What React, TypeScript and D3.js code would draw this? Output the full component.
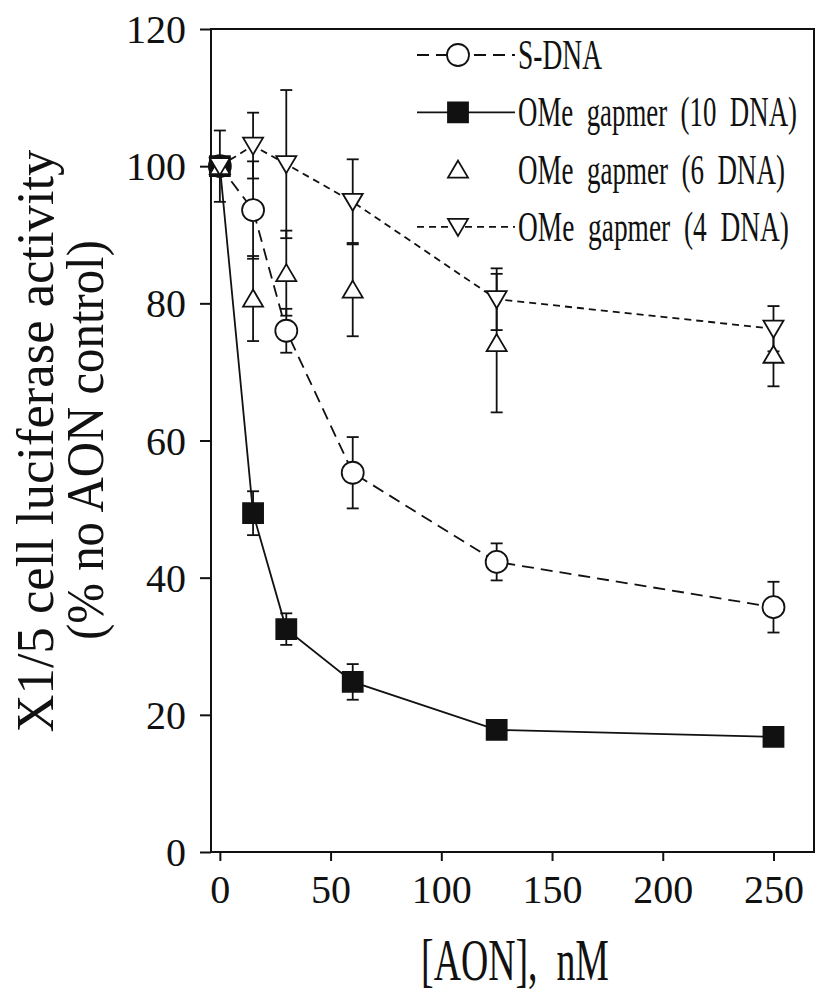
import { useEffect, useRef } from 'react';
import * as d3 from 'd3';

// Concentrations (nM) on the x axis
const concentrations = [0, 15, 30, 60, 125, 250];

// Luciferase activity (% of no-AON control) and error bars
const sDnaValues = [100, 93.6, 76.0, 55.3, 42.3, 35.7];
const sDnaErrors = [0, 7.1, 3.2, 5.2, 2.7, 3.7];
const gapmer10Values = [100, 49.4, 32.5, 24.8, 17.8, 16.8];
const gapmer10Errors = [5.2, 3.2, 2.3, 2.6, 0.8, 0.8];
const gapmer6Values = [100, 80.7, 84.4, 82.0, 74.2, 72.5];
const gapmer6Errors = [0, 6.2, 6.2, 6.8, 10.1, 4.6];
const gapmer4Values = [100, 103.0, 100.3, 94.8, 80.6, 76.3];
const gapmer4Errors = [0, 4.8, 10.8, 6.2, 4.5, 3.3];

const xTicks = [0, 50, 100, 150, 200, 250];
const yTicks = [0, 20, 40, 60, 80, 100, 120];

const legendLabels = ['S-DNA', 'OMe  gapmer  (10  DNA)', 'OMe  gapmer  (6  DNA)', 'OMe  gapmer  (4  DNA)'];

type Marker = 'circle' | 'square' | 'triUp' | 'triDown';

interface Series {
  label: string;
  values: number[];
  errors: number[];
  marker: Marker;
  dash: string | null; // null = solid
  line: boolean;
}

const series: Series[] = [
  { label: legendLabels[0], values: sDnaValues, errors: sDnaErrors, marker: 'circle', dash: '12,7', line: true },
  { label: legendLabels[1], values: gapmer10Values, errors: gapmer10Errors, marker: 'square', dash: null, line: true },
  { label: legendLabels[2], values: gapmer6Values, errors: gapmer6Errors, marker: 'triUp', dash: null, line: false },
  { label: legendLabels[3], values: gapmer4Values, errors: gapmer4Errors, marker: 'triDown', dash: '7,5', line: true },
];

const legendTextLength = [84, 279, 267, 271];

const INK = '#111';
const SERIF = '"Liberation Serif", "DejaVu Serif", serif';

function markerPath(kind: Marker, cx: number, cy: number): string {
  const s = 10; // half size
  switch (kind) {
    case 'square':
      return `M${cx - s},${cy - s}h${2 * s}v${2 * s}h${-2 * s}Z`;
    case 'triUp':
      return `M${cx},${cy - 9}L${cx + 10},${cy + 8}L${cx - 10},${cy + 8}Z`;
    case 'triDown':
      return `M${cx},${cy + 9}L${cx + 10},${cy - 8}L${cx - 10},${cy - 8}Z`;
    default: {
      const p = d3.path();
      p.arc(cx, cy, 11, 0, Math.PI * 2);
      p.closePath();
      return p.toString();
    }
  }
}

// squeeze a text horizontally to a target width (the original uses a condensed face)
function squeeze(
  text: d3.Selection<SVGTextElement, unknown, null, undefined>,
  base: string,
  width: number
) {
  const natural = text.node()!.getComputedTextLength() || width;
  text.attr('transform', `${base} scale(${width / natural},1)`);
}

export default function App() {
  const ref = useRef<SVGSVGElement>(null);

  useEffect(() => {
    if (!ref.current) return;
    const svg = d3.select(ref.current);
    svg.selectAll('*').remove();

    const plot = { left: 211, right: 814, top: 29, bottom: 852 };

    const x = d3.scaleLinear().domain([-4, 268.3]).range([plot.left, plot.right]);
    const y = d3.scaleLinear().domain([0, 120]).range([plot.bottom, plot.top]);

    // Frame
    svg
      .append('rect')
      .attr('x', plot.left)
      .attr('y', plot.top)
      .attr('width', plot.right - plot.left)
      .attr('height', plot.bottom - plot.top)
      .attr('fill', 'none')
      .attr('stroke', INK)
      .attr('stroke-width', 2);

    // Y axis
    const yAxis = svg
      .append('g')
      .attr('transform', `translate(${plot.left},0)`)
      .call(d3.axisLeft(y).tickValues(yTicks).tickSize(11).tickPadding(14).tickFormat(d3.format('d')));
    yAxis.select('.domain').remove();
    yAxis.selectAll('.tick line').attr('stroke', INK).attr('stroke-width', 2);
    yAxis
      .selectAll('.tick text')
      .attr('fill', INK)
      .attr('font-family', SERIF)
      .attr('font-size', 40)
      .attr('dy', '0.34em');

    // X axis
    const xAxis = svg
      .append('g')
      .attr('transform', `translate(0,${plot.bottom})`)
      .call(d3.axisBottom(x).tickValues(xTicks).tickSize(9).tickPadding(14).tickFormat(d3.format('d')));
    xAxis.select('.domain').remove();
    xAxis.selectAll('.tick line').attr('stroke', INK).attr('stroke-width', 2);
    xAxis
      .selectAll('.tick text')
      .attr('fill', INK)
      .attr('font-family', SERIF)
      .attr('font-size', 40)
      .attr('dy', '0.71em');

    // Axis titles
    const yTitle = svg.append('g').attr('fill', INK).attr('font-family', SERIF).attr('font-size', 53);
    const yt1 = yTitle.append('text').attr('text-anchor', 'middle').text('X1/5 cell luciferase activity');
    squeeze(yt1, 'translate(53,441) rotate(-90)', 583);
    const yt2 = yTitle.append('text').attr('text-anchor', 'middle').text('(% no AON control)');
    squeeze(yt2, 'translate(103,440) rotate(-90)', 400);

    const xt = svg
      .append('text')
      .attr('text-anchor', 'middle')
      .attr('fill', INK)
      .attr('font-family', SERIF)
      .attr('font-size', 60)
      .attr('xml:space', 'preserve')
      .style('white-space', 'pre')
      .text('[AON],  nM');
    squeeze(xt, 'translate(515,980)', 188);

    // Error bars
    const cap = 6;
    series.forEach(s => {
      const g = svg.append('g').attr('stroke', INK).attr('stroke-width', 1.8);
      concentrations.forEach((c, i) => {
        const e = s.errors[i];
        if (!e) return;
        const cx = x(c);
        const hi = y(s.values[i] + e);
        const lo = y(s.values[i] - e);
        g.append('line').attr('x1', cx).attr('x2', cx).attr('y1', hi).attr('y2', lo);
        g.append('line').attr('x1', cx - cap).attr('x2', cx + cap).attr('y1', hi).attr('y2', hi);
        g.append('line').attr('x1', cx - cap).attr('x2', cx + cap).attr('y1', lo).attr('y2', lo);
      });
    });

    // Connecting lines
    const lineGen = d3
      .line<number>()
      .x((_, i) => x(concentrations[i]))
      .y(v => y(v));

    series
      .filter(s => s.line)
      .forEach(s => {
        svg
          .append('path')
          .attr('d', lineGen(s.values))
          .attr('fill', 'none')
          .attr('stroke', INK)
          .attr('stroke-width', 1.8)
          .attr('stroke-dasharray', s.dash ?? null);
      });

    // Markers
    series.forEach(s => {
      svg
        .append('g')
        .selectAll('path')
        .data(s.values)
        .join('path')
        .attr('d', (v, i) => markerPath(s.marker, x(concentrations[i]), y(v)))
        .attr('fill', s.marker === 'square' ? INK : '#fff')
        .attr('stroke', INK)
        .attr('stroke-width', 1.8);
    });

    // Legend
    const legend = svg.append('g');
    series.forEach((s, i) => {
      const ry = 55 + i * 57.3;
      const row = legend.append('g');
      if (s.line) {
        row
          .append('line')
          .attr('x1', 417)
          .attr('x2', 515)
          .attr('y1', ry)
          .attr('y2', ry)
          .attr('stroke', INK)
          .attr('stroke-width', 1.8)
          .attr('stroke-dasharray', s.dash ?? null);
      }
      row
        .append('path')
        .attr('d', markerPath(s.marker, 458, ry))
        .attr('fill', s.marker === 'square' ? INK : '#fff')
        .attr('stroke', INK)
        .attr('stroke-width', 1.8);
      const label = row
        .append('text')
        .attr('fill', INK)
        .attr('font-family', SERIF)
        .attr('font-size', 42)
        .attr('xml:space', 'preserve')
        .style('white-space', 'pre')
        .text(s.label);
      squeeze(label, `translate(518,${ry + 14})`, legendTextLength[i]);
    });
  }, []);

  return (
    <svg
      ref={ref}
      width={818}
      height={994}
      style={{ position: 'absolute', left: 0, top: 0, background: '#fff' }}
    />
  );
}
